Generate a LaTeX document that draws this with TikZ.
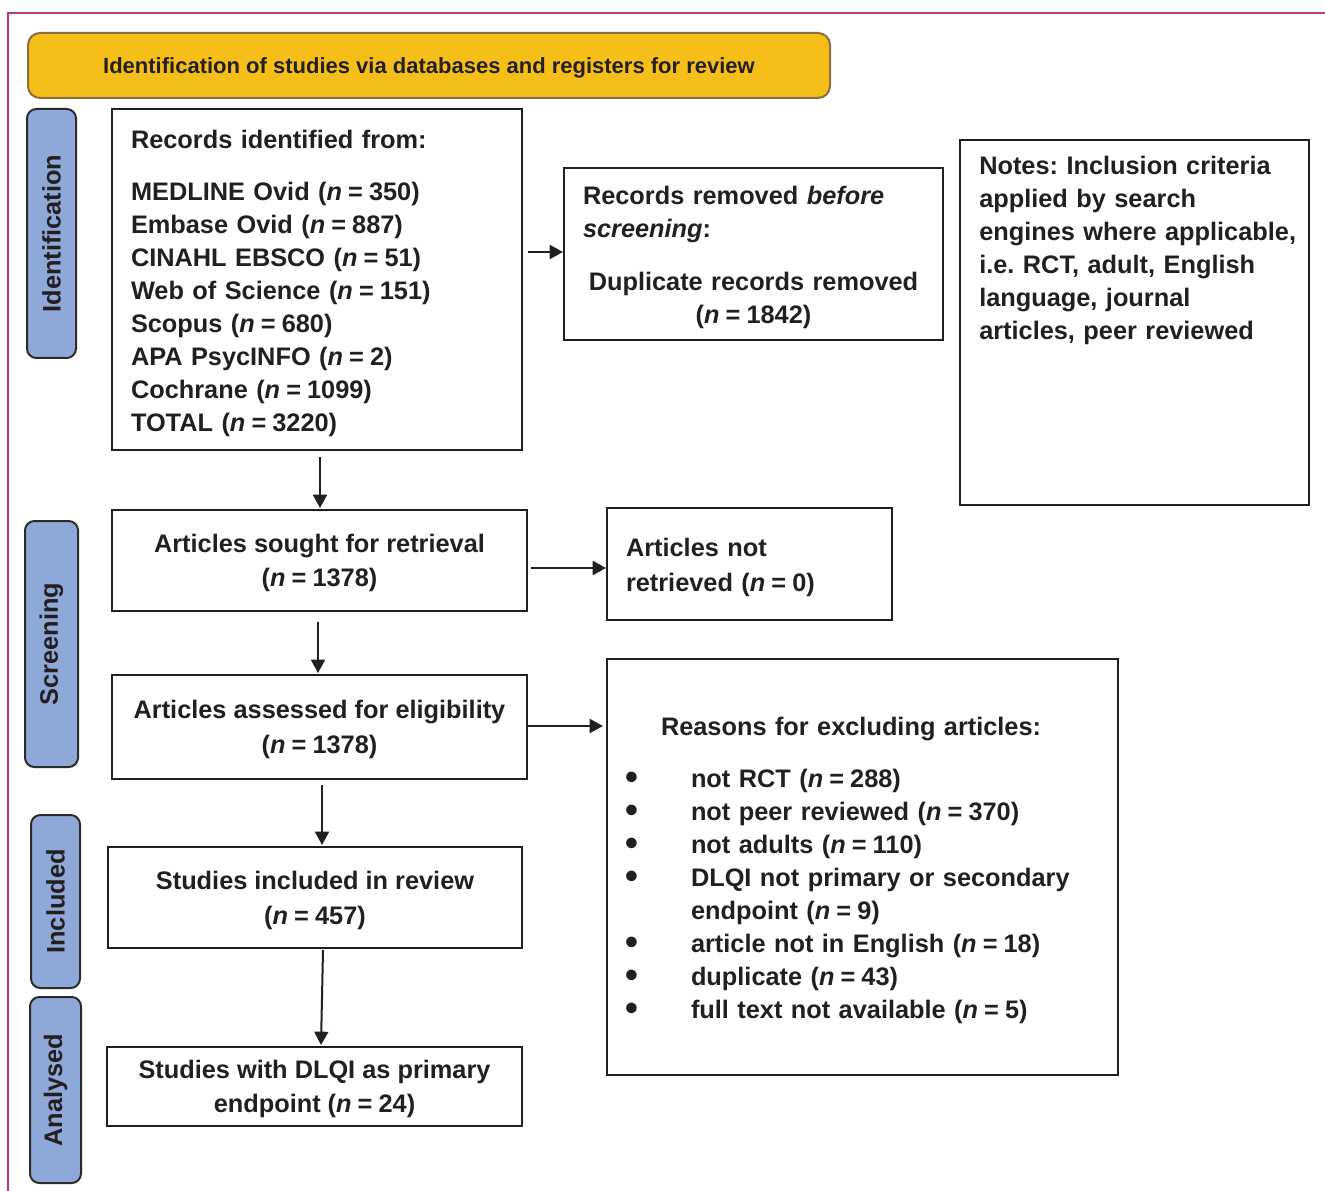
\documentclass[tikz,border=0pt]{standalone}
\usepackage{fontspec}
\setmainfont{Liberation Sans}
\usetikzlibrary{arrows.meta,calc}
\newdimen\px \px=0.75pt
\newcommand{\nn}[1]{(\textit{n}\hspace{0.24em}=\hspace{0.24em}#1)}
\newcommand{\bul}{\makebox[60\px][l]{\hspace*{-6\px}\smash{\raisebox{-0.08em}{\scalebox{1.45}{\textbullet}}}}}
\newcommand{\topstrut}{\rule{0pt}{25.5\px}}
\definecolor{ink}{HTML}{231F20}
\definecolor{framecol}{HTML}{B7378C}
\definecolor{bannerfill}{HTML}{F6BE18}
\definecolor{bannerline}{HTML}{8C6D3C}
\definecolor{phasefill}{HTML}{8EA8D8}
\definecolor{phaseline}{HTML}{2B2B2B}
\tikzset{
 x=0.75pt, y=-0.75pt,
 txt/.style={font=\fontsize{19}{24.75}\selectfont\bfseries\frenchspacing, text=ink},
 box/.style={draw=ink, line width=1.5pt, fill=white, inner sep=0pt, txt},
 cbox/.style={box, align=center, text depth=0pt},
 phasebox/.style={draw=phaseline, fill=phasefill, line width=1.5pt, rounded corners=7pt, rotate=90, inner sep=0pt, txt},
 arr/.style={draw=ink, line width=1.5pt, -{Triangle[length=10pt,width=10.5pt]}},
}
\begin{document}
\begin{tikzpicture}
\useasboundingbox (0,0) rectangle (1325,1191);
\draw[framecol, line width=1.5pt] (1325,13) -- (8,13) -- (8,1191);

\node[draw=bannerline, fill=bannerfill, line width=1.5pt, rounded corners=9pt,
  minimum width=802\px, minimum height=65\px, inner sep=0pt, text depth=0pt,
  font=\fontsize{16.5}{20}\selectfont\bfseries, text=ink] (banner) at (429,65.5)
  {Identification of studies via databases and registers for review};

\node[phasebox, minimum width=249\px, minimum height=49\px] (pid) at (51.5,233.5) {Identification};
\node[phasebox, minimum width=246\px, minimum height=53\px] (pscr) at (51.5,644) {Screening};
\node[phasebox, minimum width=173\px, minimum height=49\px] (pinc) at (55.5,901.5) {Included};
\node[phasebox, minimum width=186\px, minimum height=51\px] (pana) at (55.5,1090) {Analysed};

\node[box, minimum width=410\px, minimum height=341\px, text width=372\px, align=left] (rec) at (317,279.5)
 {\topstrut Records identified from:\\[19\px]
  MEDLINE Ovid \nn{350}\\
  Embase Ovid \nn{887}\\
  CINAHL EBSCO \nn{51}\\
  Web of Science \nn{151}\\
  Scopus \nn{680}\\
  APA PsycINFO \nn{2}\\
  Cochrane \nn{1099}\\
  TOTAL \nn{3220}};

\node[box, minimum width=379\px, minimum height=172\px, text width=341\px, align=left] (removed) at (753.5,254)
 {\topstrut Records removed \textit{before}\\\textit{screening}:\par\vspace{20\px}
  {\centering Duplicate records removed\\\nn{1842}\par}};

\node[box, minimum width=349\px, minimum height=365\px] (notes) at (1134.5,322.5) {};
\node[txt, anchor=north west, inner sep=0pt, text width=320\px, align=left] (notestext) at (979,156)
 {Notes: Inclusion criteria\\applied by search\\engines where applicable,\\i.e. RCT, adult, English\\language, journal\\articles, peer reviewed};

\node[cbox, minimum width=415\px, minimum height=101\px] (sought) at (319.5,560.5)
 {Articles sought for retrieval\\[1.5\px]\nn{1378}};
\node[box, minimum width=285\px, minimum height=112\px, text width=247\px, align=left] (notret) at (749.5,564)
 {\topstrut Articles not\\[1.5\px]retrieved \nn{0}};

\node[cbox, minimum width=415\px, minimum height=104\px] (assess) at (319.5,727)
 {Articles assessed for eligibility\\[2\px]\nn{1378}};

\node[box, minimum width=511\px, minimum height=416\px, text width=463\px, align=left] (reasons) at (862.5,867)
 {\topstrut\hspace*{30\px}Reasons for excluding articles:\\[19\px]
  \bul not RCT \nn{288}\\
  \bul not peer reviewed \nn{370}\\
  \bul not adults \nn{110}\\
  \bul DLQI not primary or secondary\\
  \hspace*{60\px}endpoint \nn{9}\\
  \bul article not in English \nn{18}\\
  \bul duplicate \nn{43}\\
  \bul full text not available \nn{5}};

\node[cbox, minimum width=414\px, minimum height=101\px] (incl) at (315,897.5)
 {Studies included in review\\[2\px]\nn{457}};
\node[cbox, minimum width=415\px, minimum height=79\px] (anal) at (314.5,1086.5)
 {Studies with DLQI as primary\\[1.5\px]endpoint \nn{24}};

\draw[arr] ($(rec.south)+(3,6)$) -- ($(sought.north)+(0.5,-1)$);
\draw[arr] ($(rec.east |- removed.west)+(5,-2)$) -- ($(removed.west)+(0,-2)$);
\draw[arr] ($(sought.east)+(3,7.5)$) -- ($(notret.west)+(0,4)$);
\draw[arr] ($(sought.south)+(-1.5,10)$) -- ($(assess.north)+(-1.5,-1)$);
\draw[arr] ($(assess.east)+(0,-1)$) -- ($(assess.east -| reasons.west)+(-3,-1)$);
\draw[arr] ($(assess.south)+(2.5,5)$) -- ($(incl.north)+(7,-1)$);
\draw[arr] ($(incl.south)+(8,1)$) -- ($(anal.north)+(6.5,-1)$);
\end{tikzpicture}
\end{document}
